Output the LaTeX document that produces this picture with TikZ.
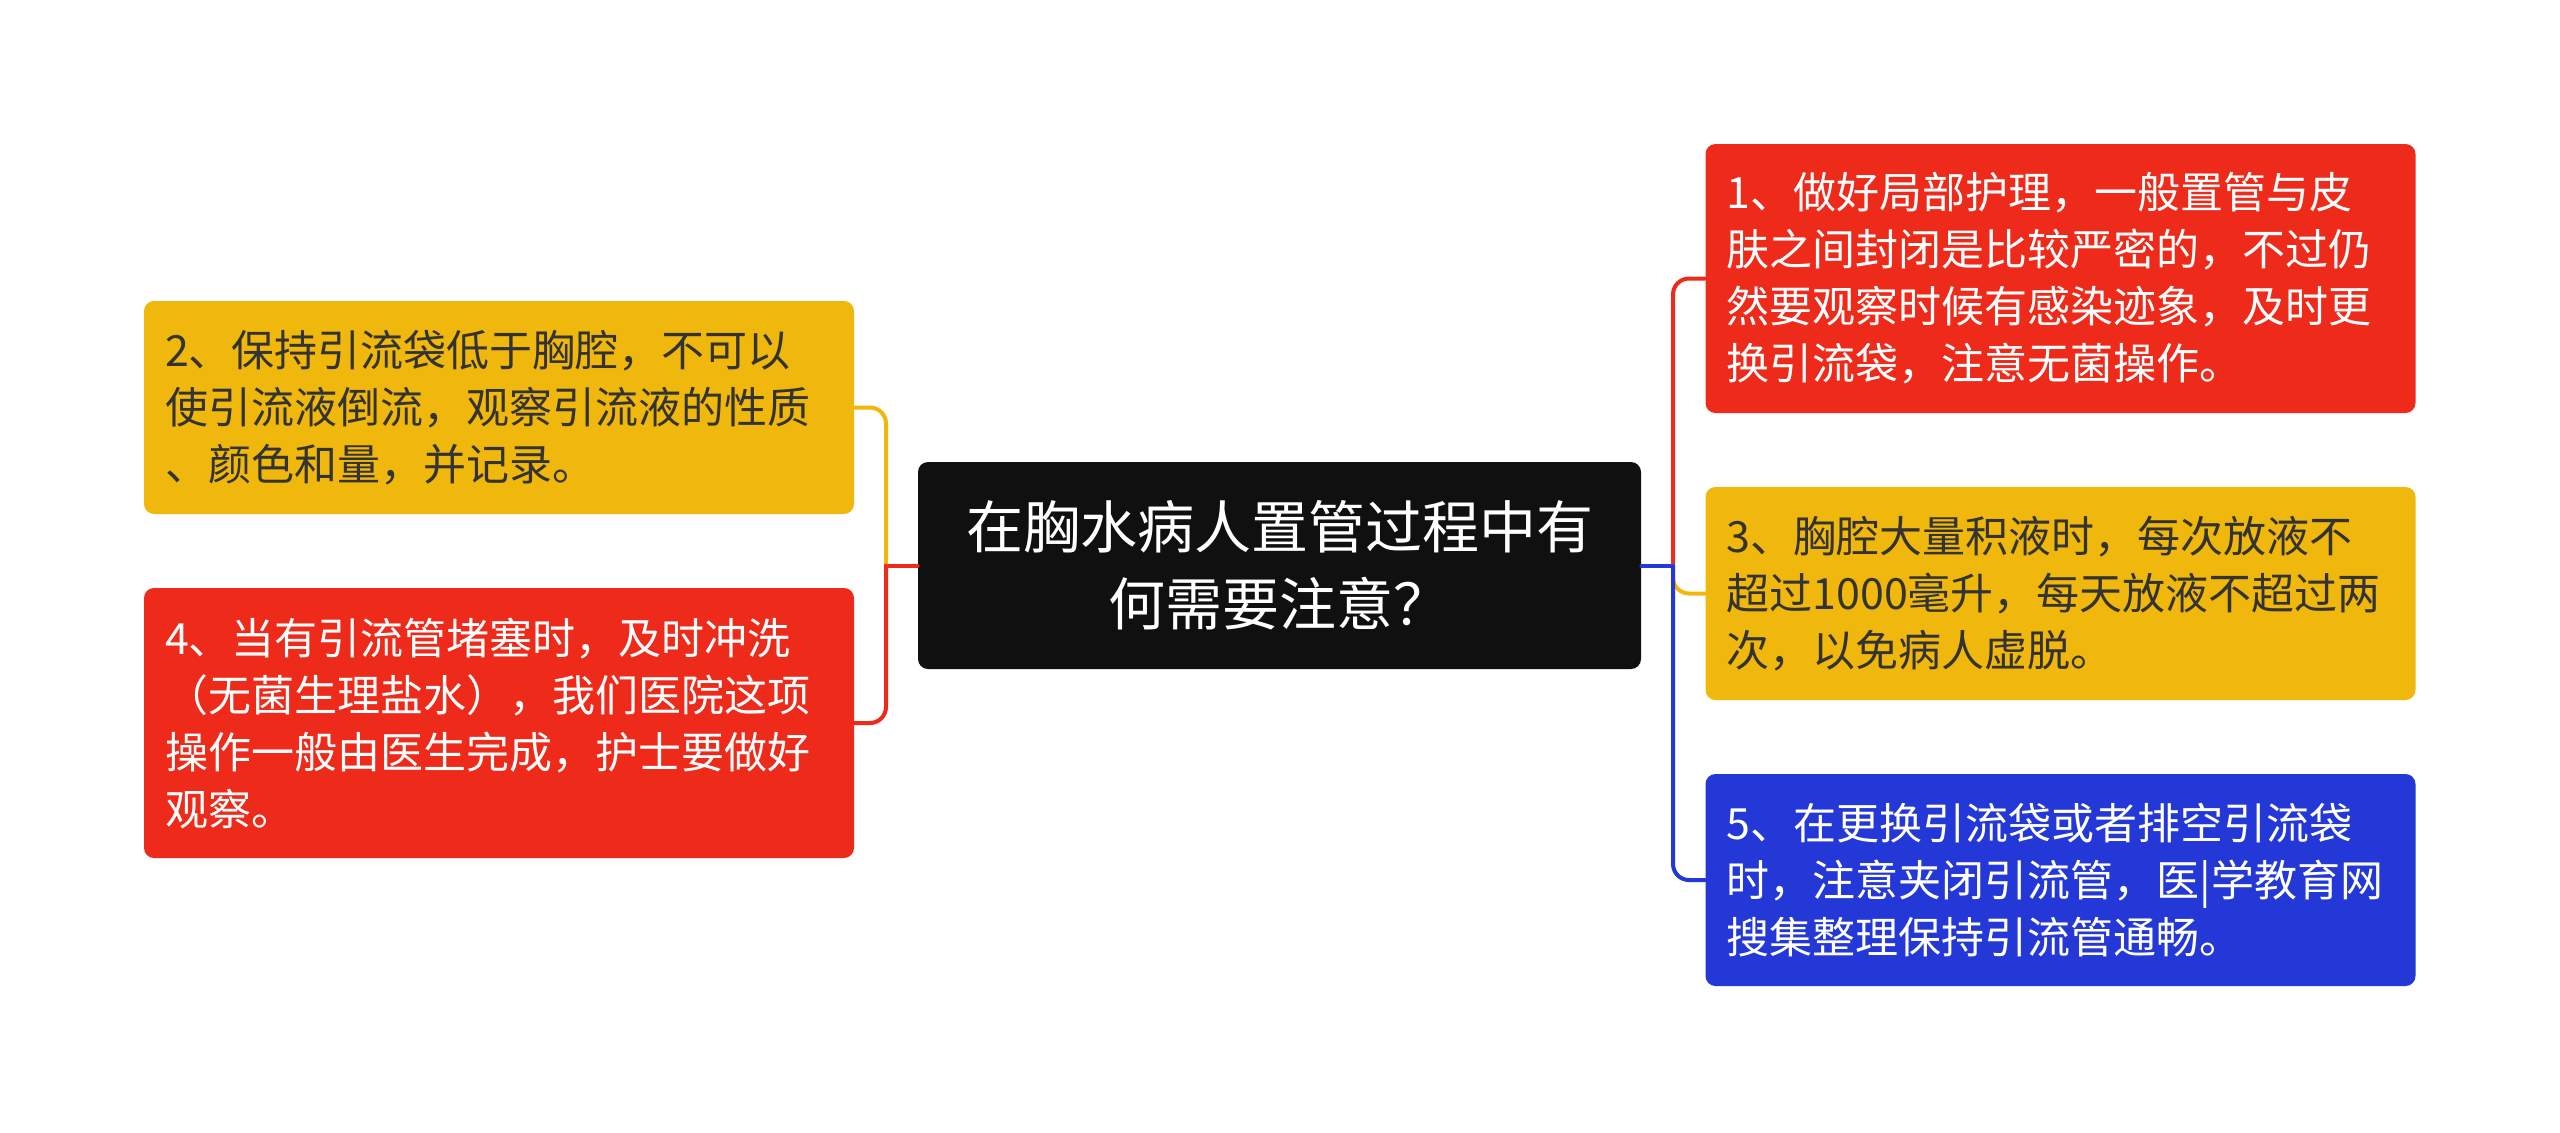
\documentclass[tikz,border=0pt]{standalone}
\usepackage{fontspec}
\setmainfont{Noto Sans CJK SC}
\definecolor{mred}{HTML}{EE2A1A}
\definecolor{myellow}{HTML}{F0B70C}
\definecolor{mblue}{HTML}{2338D6}
\definecolor{mblack}{HTML}{101010}
\definecolor{mtext}{HTML}{333333}
\begin{document}
\begin{tikzpicture}[x=0.5pt,y=-0.5pt,line join=round,line cap=round,
	box/.style={rounded corners=5pt,inner xsep=10.5pt,inner ysep=0pt,minimum width=355pt,
		text width=334pt,align=left,font=\fontsize{21.5}{28.5}\selectfont},
	rootbox/.style={rounded corners=5pt,fill=mblack,text=white,minimum width=361.5pt,
		minimum height=103.5pt,align=center,font=\fontsize{28.5}{38.5}\selectfont},
	link/.style={line width=2pt,rounded corners=8pt}]
	\useasboundingbox (0,0) rectangle (2560,1132);
	\node[rootbox] (root) at (1279.5,565.5) {在胸水病人置管过程中有\\何需要注意？};
	\node[box,fill=myellow,text=mtext,minimum height=106.5pt] (n2) at (499,407.5)
		{2、保持引流袋低于胸腔，不可以\\使引流液倒流，观察引流液的性质\\、颜色和量，并记录。};
	\node[box,fill=mred,text=white,minimum height=135pt] (n4) at (499,723)
		{4、当有引流管堵塞时，及时冲洗\\（无菌生理盐水），我们医院这项\\操作一般由医生完成，护士要做好\\观察。};
	\node[box,fill=mred,text=white,minimum height=134.5pt] (n1) at (2060.5,278.5)
		{1、做好局部护理，一般置管与皮\\肤之间封闭是比较严密的，不过仍\\然要观察时候有感染迹象，及时更\\换引流袋，注意无菌操作。};
	\node[box,fill=myellow,text=mtext,minimum height=106.5pt] (n3) at (2060.5,593.5)
		{3、胸腔大量积液时，每次放液不\\超过1000毫升，每天放液不超过两\\次，以免病人虚脱。};
	\node[box,fill=mblue,text=white,minimum height=106pt] (n5) at (2060.5,880)
		{5、在更换引流袋或者排空引流袋\\时，注意夹闭引流管，医|学教育网\\搜集整理保持引流管通畅。};
	\coordinate (ml) at (886,565.5);
	\coordinate (mr) at (1673,565.5);
	\draw[link,mred] (root.west) -- (ml);
	\draw[link,myellow] (ml) |- (n2.east);
	\draw[link,mred] (ml) |- (n4.east);
	\draw[link,mblue] (root.east) -- (mr);
	\draw[link,mred] (mr) |- (n1.west);
	\draw[link,myellow] (mr) |- (n3.west);
	\draw[link,mblue] (mr) |- (n5.west);
\end{tikzpicture}
\end{document}
